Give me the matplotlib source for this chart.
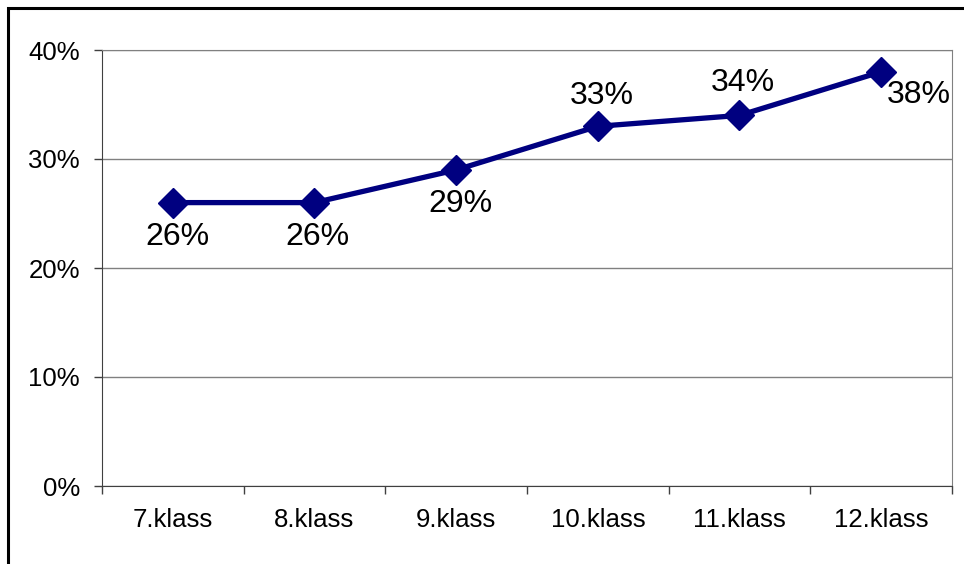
import matplotlib.pyplot as plt
from matplotlib.patches import Rectangle

plt.rcParams['font.family'] = ['Liberation Sans', 'DejaVu Sans']

# data
categories = ['7.klass', '8.klass', '9.klass', '10.klass', '11.klass', '12.klass']
values = [26, 26, 29, 33, 34, 38]
labels = ['26%', '26%', '29%', '33%', '34%', '38%']
# label offsets in pixels (dx, dy) relative to point
offsets = [(5, -34), (3, -34), (4, -34), (4, 30), (3, 32), (6, -23)]

fig = plt.figure(figsize=(9.64, 5.64), dpi=100)
ax = fig.add_axes([102/964, 1-486/564, (952-102)/964, (486-50)/564])

x = range(len(categories))
ax.plot(x, values, '-', color='#000080', linewidth=3.8, marker='D',
        markersize=15, markerfacecolor='#000080', markeredgecolor='#000080', zorder=3)

for i, (v, lab) in enumerate(zip(values, labels)):
    dx, dy = offsets[i]
    ax.annotate(lab, xy=(i, v), xytext=(dx*0.72, dy*0.72), textcoords='offset points',
                ha='center' if i < 5 else 'left', va='center', fontsize=23, color='black')

ax.set_xlim(-0.5, 5.5)
ax.set_ylim(0, 40)
ax.set_yticks([0, 10, 20, 30, 40])
ax.set_yticklabels(['0%', '10%', '20%', '30%', '40%'])
ax.yaxis.grid(True, color='#808080', linewidth=1)
ax.set_axisbelow(True)

ax.set_xticks(list(x))
ax.set_xticklabels(categories)
ax.set_xticks([i - 0.5 for i in range(7)], minor=True)
ax.tick_params(axis='x', which='major', length=0, pad=16, labelsize=18.5)
ax.tick_params(axis='x', which='minor', length=6, width=1, direction='out', color='#404040')
ax.tick_params(axis='y', length=6, width=1, direction='out', pad=10, labelsize=18.5, color='#404040')

ax.spines['left'].set_color('#404040')
ax.spines['bottom'].set_color('#404040')
ax.spines['top'].set_color('#808080')
ax.spines['right'].set_color('#808080')

# outer chart border
fig.patches.append(Rectangle((7.5/964, -0.1), 1.2, 1-8.5/564+0.1, transform=fig.transFigure,
                             fill=False, edgecolor='black', linewidth=2.2))

fig.savefig('out.png', dpi=100)
